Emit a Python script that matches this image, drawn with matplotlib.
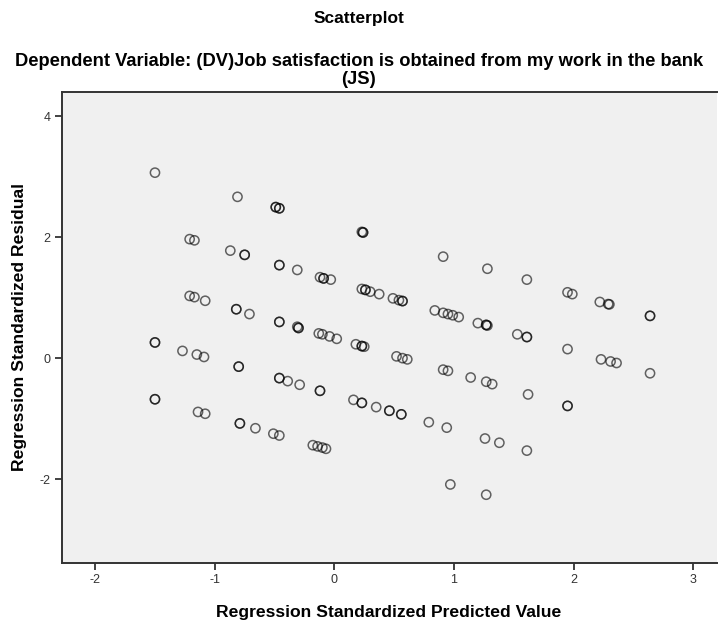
import matplotlib
matplotlib.use("Agg")
import matplotlib.pyplot as plt

plt.rcParams["font.family"] = ["Liberation Sans", "DejaVu Sans"]
plt.rcParams["axes.unicode_minus"] = False

# Regression standardized predicted value (x) and standardized residual (y)
# overlapping cases are listed repeatedly
pred = [
    -1.50, -1.50, -1.50, -1.50, -1.50,
    -1.21, -1.17, -1.21, -1.17, -1.08, -1.27, -1.15, -1.09, -1.14, -1.08,
    -0.81, -0.87, -0.75, -0.75, -0.82, -0.82, -0.71, -0.80, -0.80, -0.79, -0.79, -0.66,
    -0.49, -0.46, -0.49, -0.46, -0.46, -0.46, -0.31, -0.46, -0.46, -0.31, -0.30, -0.30,
    -0.46, -0.46, -0.39, -0.29, -0.51, -0.46,
    -0.12, -0.09, -0.09, -0.03, -0.13, -0.10, -0.04, 0.02, -0.12, -0.12,
    -0.18, -0.14, -0.10, -0.07,
    0.23, 0.24, 0.24, 0.23, 0.26, 0.26, 0.30, 0.375, 0.18, 0.23, 0.23, 0.25,
    0.16, 0.23, 0.23, 0.35, 0.46, 0.46,
    0.49, 0.54, 0.57, 0.57, 0.52, 0.57, 0.61, 0.56, 0.56,
    0.91, 0.84, 0.91, 0.95, 0.99, 1.04, 0.91, 0.95, 0.79, 0.94, 0.97,
    1.28, 1.20, 1.27, 1.27, 1.28, 1.14, 1.27, 1.32, 1.26, 1.38, 1.27,
    1.61, 1.53, 1.61, 1.61, 1.62, 1.61,
    1.95, 1.99, 1.95, 1.95, 1.95,
    2.22, 2.29, 2.30, 2.23, 2.31, 2.36,
    2.64, 2.64, 2.64,
]
resid = [
    3.07, 0.26, 0.26, -0.68, -0.68,
    1.97, 1.95, 1.03, 1.01, 0.95, 0.12, 0.06, 0.02, -0.89, -0.92,
    2.67, 1.78, 1.71, 1.71, 0.81, 0.81, 0.73, -0.14, -0.14, -1.08, -1.08, -1.16,
    2.50, 2.48, 2.50, 2.48, 1.54, 1.54, 1.46, 0.60, 0.60, 0.52, 0.50, 0.50,
    -0.33, -0.33, -0.38, -0.44, -1.25, -1.28,
    1.34, 1.32, 1.32, 1.30, 0.41, 0.395, 0.36, 0.32, -0.54, -0.54,
    -1.44, -1.46, -1.48, -1.50,
    2.09, 2.08, 2.08, 1.145, 1.13, 1.13, 1.10, 1.06, 0.23, 0.20, 0.20, 0.19,
    -0.69, -0.74, -0.74, -0.81, -0.87, -0.87,
    0.99, 0.96, 0.945, 0.945, 0.03, 0.00, -0.02, -0.93, -0.93,
    1.68, 0.79, 0.75, 0.73, 0.71, 0.68, -0.19, -0.21, -1.06, -1.15, -2.09,
    1.48, 0.58, 0.55, 0.55, 0.54, -0.32, -0.39, -0.43, -1.33, -1.40, -2.26,
    1.30, 0.395, 0.35, 0.35, -0.60, -1.53,
    1.09, 1.06, 0.15, -0.79, -0.79,
    0.93, 0.895, 0.89, -0.02, -0.055, -0.08,
    0.70, 0.70, -0.25,
]

x_ticks = [-2, -1, 0, 1, 2, 3]
y_ticks = [-2, 0, 2, 4]

W, H = 718, 623
fig = plt.figure(figsize=(W / 100, H / 100), dpi=100)
left, right, top, bottom = 61.7, 717.0, 92.3, 563.0
ax = fig.add_axes([left / W, 1 - bottom / H, (right - left) / W, (bottom - top) / H])
ax.set_facecolor("#F0F0F0")

ax.scatter(pred, resid, s=44, facecolors="none", edgecolors="black",
           linewidths=1.1, alpha=0.6, zorder=3)

ax.set_xlim(-2.28, 3.20)
ax.set_ylim(-3.39, 4.40)
ax.set_xticks(x_ticks)
ax.set_yticks(y_ticks)
ax.set_xticklabels([str(v) for v in x_ticks])
ax.set_yticklabels([str(v) for v in y_ticks])
ax.tick_params(direction="out", length=5, width=1.3, color="#333333",
               labelsize=9, labelcolor="#333333", pad=3)
for side in ["left", "bottom", "top"]:
    ax.spines[side].set_color("#333333")
    ax.spines[side].set_linewidth(1.4)
ax.spines["right"].set_visible(False)

fig.text(0.5, 1 - 18 / H, "Scatterplot", ha="center", va="center",
         fontsize=12.5, fontweight="bold")
fig.text(0.5, 1 - 62 / H,
         "Dependent Variable: (DV)Job satisfaction is obtained from my work in the bank",
         ha="center", va="center", fontsize=13.2, fontweight="bold")
fig.text(0.5, 1 - 79 / H, "(JS)", ha="center", va="center",
         fontsize=13.2, fontweight="bold")
fig.text(389 / W, 1 - 612 / H, "Regression Standardized Predicted Value",
         ha="center", va="center", fontsize=12.6, fontweight="bold")
fig.text(20 / W, 1 - 327 / H, "Regression Standardized Residual",
         ha="center", va="center", rotation=90, fontsize=12.6, fontweight="bold")

fig.savefig("out.png", dpi=100, facecolor="white")
